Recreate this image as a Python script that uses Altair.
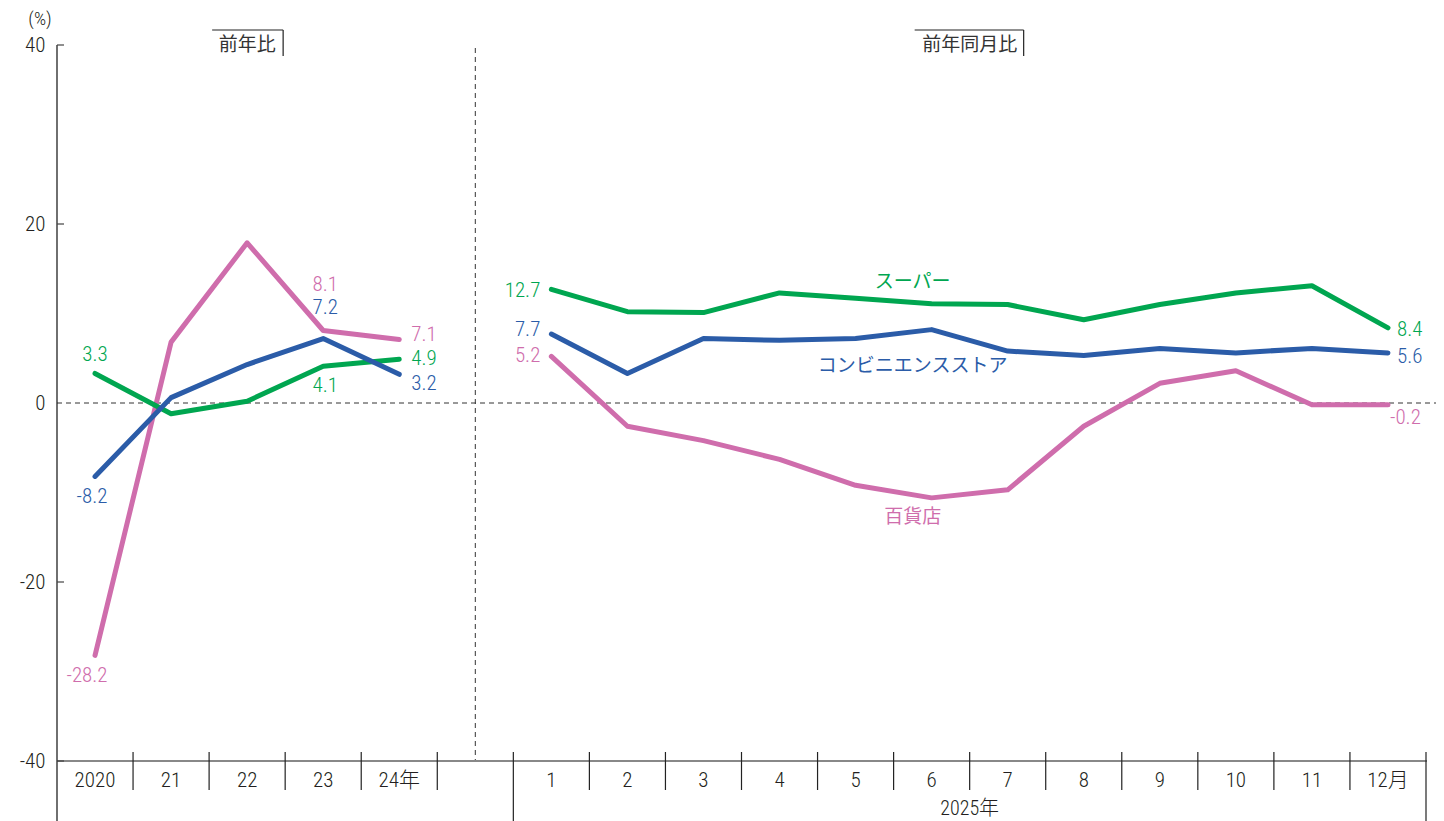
import altair as alt
import pandas as pd
import numpy as np

# ---------------- data ----------------
annual_labels = ["2020", "21", "22", "23", "24年"]
month_labels = ["1", "2", "3", "4", "5", "6", "7", "8", "9", "10", "11", "12月"]
series_names = ["スーパー", "コンビニエンスストア", "百貨店"]

super_annual = [3.3, -1.2, 0.2, 4.1, 4.9]
conv_annual = [-8.2, 0.6, 4.3, 7.2, 3.2]
dept_annual = [-28.2, 6.8, 17.9, 8.1, 7.1]

super_monthly = [12.7, 10.2, 10.1, 12.3, 11.7, 11.1, 11.0, 9.3, 11.0, 12.3, 13.1, 8.4]
conv_monthly = [7.7, 3.3, 7.2, 7.0, 7.2, 8.2, 5.8, 5.3, 6.1, 5.6, 6.1, 5.6]
dept_monthly = [5.2, -2.6, -4.2, -6.3, -9.2, -10.6, -9.7, -2.6, 2.2, 3.6, -0.2, -0.2]

panel_titles = ["前年比", "前年同月比"]
year_caption = "2025年"
unit_label = "(%)"
y_ticks = [40, 20, 0, -20, -40]

# ---------------- layout / style ----------------
W, H = 1369, 716
NUM_FONT = "Roboto Condensed, Noto Sans CJK JP, sans-serif"
JP_FONT = "Noto Sans CJK JP, sans-serif"
NUM_W = 300
TXT = "#231f20"
colors = {"スーパー": "#00a650", "コンビニエンスストア": "#2b5ca8", "百貨店": "#cf6dac"}

n_a = len(annual_labels)
gap_idx = n_a                      # empty slot between the two panels
month_idx = [gap_idx + 1 + j for j in range(len(month_labels))]
annual_idx = list(range(n_a))
x_max = month_idx[-1] + 0.5

xscale = alt.Scale(domain=[-0.5, x_max], nice=False, zero=False)
yscale = alt.Scale(domain=[-40, 40], nice=False, zero=False)
X = alt.X("idx:Q", scale=xscale, axis=None)
Y = alt.Y("value:Q", scale=yscale,
          axis=alt.Axis(values=y_ticks, ticks=False, tickSize=0, domain=False, grid=False,
                        labelFont=NUM_FONT, labelFontSize=21, labelFontWeight=NUM_W, labelColor=TXT,
                        labelPadding=12, labelExpr="'' + datum.value", title=None))

series_data = {
    "スーパー": (super_annual, super_monthly),
    "コンビニエンスストア": (conv_annual, conv_monthly),
    "百貨店": (dept_annual, dept_monthly),
}

rows = []
for s, (a, m) in series_data.items():
    for i, v in zip(annual_idx, a):
        rows.append({"series": s, "segment": "annual", "idx": i, "value": v})
    for i, v in zip(month_idx, m):
        rows.append({"series": s, "segment": "monthly", "idx": i, "value": v})
df = pd.DataFrame(rows)

layers = []

# zero dashed line
layers.append(alt.Chart(pd.DataFrame({"value": [0]})).mark_rule(
    color="#333", strokeWidth=1, strokeDash=[5, 4]).encode(
    y=Y, x=alt.value(0), x2=alt.value(W + 12)))

# vertical dashed separator in the gap slot
layers.append(alt.Chart(pd.DataFrame({"idx": [gap_idx]})).mark_rule(
    color="#333", strokeWidth=1, strokeDash=[5, 4]).encode(
    x=X, y=alt.value(3), y2=alt.value(H)))

# bottom axis line
layers.append(alt.Chart(pd.DataFrame({"value": [-40]})).mark_rule(
    color="#888", strokeWidth=2).encode(y=Y, x=alt.value(0), x2=alt.value(W + 1)))

# y axis line and inward ticks
layers.append(alt.Chart(pd.DataFrame({"value": [0]})).mark_rule(
    color="#222", strokeWidth=1.3).encode(x=alt.value(0), y=alt.value(0), y2=alt.value(H + 62)))
layers.append(alt.Chart(pd.DataFrame({"value": [t for t in y_ticks if t != 0]})).mark_rule(
    color="#444", strokeWidth=1.2).encode(y=Y, x=alt.value(0), x2=alt.value(7)))

# category separators
short_b = [i + 0.5 for i in annual_idx] + [i + 0.5 for i in month_idx[:-1]]
long_b = [gap_idx + 0.5, month_idx[-1] + 0.5]
layers.append(alt.Chart(pd.DataFrame({"idx": short_b})).mark_rule(
    color="#222", strokeWidth=1.2).encode(x=X, y=alt.value(H - 9), y2=alt.value(H + 29)))
layers.append(alt.Chart(pd.DataFrame({"idx": long_b})).mark_rule(
    color="#222", strokeWidth=1.2).encode(x=X, y=alt.value(H - 9), y2=alt.value(H + 62)))

# category labels
cat_df = pd.DataFrame({"idx": annual_idx + month_idx, "label": annual_labels + month_labels})
layers.append(alt.Chart(cat_df).mark_text(
    font=NUM_FONT, fontSize=21, fontWeight=NUM_W, color=TXT, baseline="middle", align="center").encode(
    x=X, y=alt.value(H + 20), text="label:N"))
layers.append(alt.Chart(pd.DataFrame({"idx": [(month_idx[0] + month_idx[-1]) / 2], "label": [year_caption]})).mark_text(
    font=NUM_FONT, fontSize=20, fontWeight=NUM_W, color=TXT, baseline="middle", align="center").encode(
    x=X, y=alt.value(H + 48), text="label:N"))

# panel titles with bracket
panel_pos = [annual_idx[n_a // 2], (month_idx[0] + month_idx[-1]) / 2]
panel_ext = [(-35, 36), (-55, 54)]
for t, p, (l, r) in zip(panel_titles, panel_pos, panel_ext):
    d = pd.DataFrame({"idx": [p], "label": [t]})
    layers.append(alt.Chart(d).mark_text(
        font=JP_FONT, fontSize=19, color="#333", baseline="middle", align="center").encode(
        x=X, y=alt.value(0), text="label:N"))
    layers.append(alt.Chart(d).mark_rule(color="#222", strokeWidth=1.2, xOffset=l, x2Offset=r).encode(
        x=X, x2=alt.X2("idx:Q"), y=alt.value(-15)))
    layers.append(alt.Chart(d).mark_rule(color="#222", strokeWidth=1.2, xOffset=r).encode(
        x=X, y=alt.value(-15), y2=alt.value(11)))

# unit label
layers.append(alt.Chart(pd.DataFrame({"label": [unit_label]})).mark_text(
    font=NUM_FONT, fontSize=19, fontWeight=NUM_W, color=TXT, baseline="middle", align="center").encode(
    x=alt.value(-17), y=alt.value(-26), text="label:N"))

# lines
for s in ["百貨店", "スーパー", "コンビニエンスストア"]:
    layers.append(alt.Chart(df[df.series == s]).mark_line(
        strokeWidth=5, strokeCap="round", strokeJoin="round", color=colors[s]).encode(
        x=X, y=Y, detail="segment:N", order="idx:Q"))

# value labels (series, slot index, align, dx, dy)
value_label_layout = [
    ("スーパー", 0, "center", 0, -18),
    ("コンビニエンスストア", 0, "center", -3, 21),
    ("百貨店", 0, "center", -8, 21),
    ("百貨店", 3, "center", 2, -46),
    ("コンビニエンスストア", 3, "center", 2, -31),
    ("スーパー", 3, "center", 2, 20),
    ("百貨店", 4, "left", 12, -4),
    ("スーパー", 4, "left", 12, 0),
    ("コンビニエンスストア", 4, "left", 12, 10),
    ("スーパー", month_idx[0], "right", -11, 2),
    ("コンビニエンスストア", month_idx[0], "right", -11, -4),
    ("百貨店", month_idx[0], "right", -11, 0),
    ("スーパー", month_idx[-1], "left", 9, 2),
    ("コンビニエンスストア", month_idx[-1], "left", 9, 4),
    ("百貨店", month_idx[-1], "left", 2, 13),
]
for s, i, al, dx, dy in value_label_layout:
    d = df[(df.series == s) & (df.idx == i)].copy()
    d["label"] = d["value"].map(lambda v: f"{v:.1f}")
    layers.append(alt.Chart(d).mark_text(
        font=NUM_FONT, fontSize=21, fontWeight=NUM_W, color=colors[s], align=al, baseline="middle",
        dx=dx, dy=dy).encode(x=X, y=Y, text="label:N"))

# series name labels anchored at June
name_anchor = month_idx[5]
name_layout = {"スーパー": (-19, -22), "コンビニエンスストア": (-19, 36), "百貨店": (-19, 19)}
for s, (dx, dy) in name_layout.items():
    d = df[(df.series == s) & (df.idx == name_anchor)].copy()
    d["label"] = s
    layers.append(alt.Chart(d).mark_text(
        font=JP_FONT, fontSize=19, color=colors[s], align="center", baseline="middle", dx=dx, dy=dy).encode(
        x=X, y=Y, text="label:N"))

chart = alt.layer(*layers).properties(
    width=W, height=H,
    autosize=alt.AutoSizeParams(type="none"),
    padding={"left": 49, "top": 37, "right": 10, "bottom": 60},
).configure(background="white").configure_view(stroke=None)

chart.save("out.html", embed_options={"renderer": "svg", "actions": False})
